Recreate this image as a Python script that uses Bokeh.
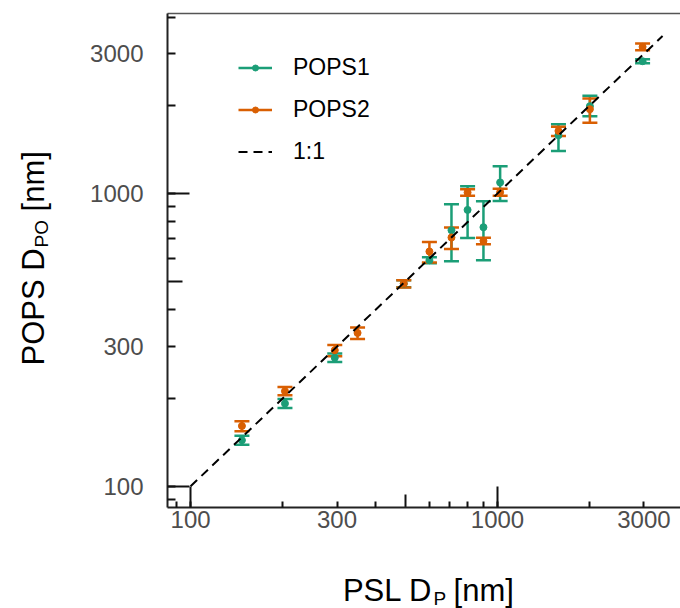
from bokeh.plotting import figure
from bokeh.models import (ColumnDataSource, Whisker, TeeHead, LogAxis, FixedTicker,
                          Legend, LegendItem, Label, Range1d, BasicTickFormatter, Grid)
from bokeh.layouts import column, row
from bokeh.embed import file_html
from bokeh.resources import INLINE
import math

# ---------------- data ----------------
pops1_psl = [147, 203, 295, 495, 600, 708, 799, 900, 1020, 1580, 2000, 2970]
pops1_dpo = [143.6, 191.7, 274.8, 491.8, 591.6, 749.3, 879, 767, 1091, 1582, 1988, 2831]
pops1_low = [138.5, 184.9, 265.7, 478, 578, 587, 705, 591.6, 943, 1398, 1837, 2786]
pops1_high = [148.9, 198.8, 284.3, 505, 606, 919, 1059, 941, 1240, 1725, 2156, 2876]

pops2_psl = [147, 203, 295, 350, 495, 600, 708, 799, 900, 1020, 1580, 2000, 2970]
pops2_dpo = [160.7, 211.2, 291.5, 334.0, 492.6, 633.8, 707.5, 1008, 688.8, 1010, 1636, 1941, 3169]
pops2_low = [154.2, 204.6, 278.1, 318.6, 477.4, 581.0, 646.8, 983, 671, 983, 1573, 1743, 3087]
pops2_high = [166.8, 218.4, 303.9, 348.5, 505.6, 683.5, 765.2, 1034, 706.3, 1038, 1689, 2112, 3254]

one_to_one = [100, 3450]

tick_vals = [100, 300, 1000, 3000]
tick_labels = ["100", "300", "1000", "3000"]
long_ticks = [100, 1000]
mid_ticks = [500]
x_minor = [90, 200, 400, 600, 700, 800, 900, 2000]
y_minor = [90, 200, 400, 600, 700, 800, 900, 2000, 4000]

series_names = ["POPS1", "POPS2", "1:1"]
x_title = ["PSL D", "P", "[nm]"]
y_title = ["POPS D", "PO", "[nm]"]

GREEN = "#1b9e77"
ORANGE = "#d95f02"
FONT = "Liberation Sans"
NAN = float("nan")


def strip(fig):
    fig.outline_line_color = None
    fig.center = [c for c in fig.center if not isinstance(c, Grid)]
    fig.background_fill_color = "white"
    fig.border_fill_color = "white"


# ---------------- main figure ----------------
p = figure(width=620, height=560, x_axis_type="log", y_axis_type="log",
           x_range=Range1d(84.1, 3947), y_range=Range1d(84.6, 4120),
           x_axis_location=None, y_axis_location=None,
           output_backend="svg", toolbar_location=None,
           min_border_left=107, min_border_right=0, min_border_top=13, min_border_bottom=53)
strip(p)


def tick_axis(ticks, minor, tin, min_in, lw=2):
    return LogAxis(ticker=FixedTicker(ticks=ticks, minor_ticks=minor),
                   formatter=BasicTickFormatter(),
                   major_tick_in=tin, major_tick_out=0, minor_tick_in=min_in, minor_tick_out=0,
                   major_tick_line_width=lw, minor_tick_line_width=lw,
                   major_tick_line_color="#111", minor_tick_line_color="#111",
                   axis_line_color=None, major_label_text_font_size="1px",
                   major_label_text_alpha=0, major_label_standoff=0)


def label_axis(minor, tin, standoff):
    return LogAxis(ticker=FixedTicker(ticks=tick_vals, minor_ticks=minor),
                   formatter=BasicTickFormatter(),
                   major_label_overrides={float(v): t for v, t in zip(tick_vals, tick_labels)},
                   major_tick_in=tin, major_tick_out=0, minor_tick_in=tin, minor_tick_out=0,
                   major_tick_line_width=2, minor_tick_line_width=2,
                   major_tick_line_color="#111", minor_tick_line_color="#111",
                   axis_line_color="#222", axis_line_width=2,
                   major_label_text_font=FONT, major_label_text_font_size="24px",
                   major_label_text_color="#4d4d4d", major_label_standoff=standoff)


p.add_layout(tick_axis(long_ticks, mid_ticks, 21, 13), "below")
p.add_layout(label_axis(x_minor, 6, 3), "below")
p.add_layout(tick_axis(long_ticks, mid_ticks, 22, 15), "left")
p.add_layout(label_axis(y_minor, 8, 24), "left")

top_axis = LogAxis(ticker=FixedTicker(ticks=[100]), formatter=BasicTickFormatter(),
                   axis_line_color="#555", axis_line_width=1.5,
                   major_tick_in=0, major_tick_out=0, minor_tick_in=0, minor_tick_out=0,
                   major_label_text_font_size="1px", major_label_text_alpha=0,
                   major_label_standoff=0)
p.add_layout(top_axis, "above")

# ---------------- data renderers ----------------
src1 = ColumnDataSource(dict(x=pops1_psl, y=pops1_dpo, lower=pops1_low, upper=pops1_high))
src2 = ColumnDataSource(dict(x=pops2_psl, y=pops2_dpo, lower=pops2_low, upper=pops2_high))

for src, col in ((src1, GREEN), (src2, ORANGE)):
    w = Whisker(source=src, base="x", lower="lower", upper="upper", dimension="height",
                line_color=col, line_width=2.5,
                upper_head=TeeHead(size=15, line_color=col, line_width=2.5),
                lower_head=TeeHead(size=15, line_color=col, line_width=2.5))
    p.add_layout(w)

s1 = p.scatter("x", "y", source=src1, size=7, color=GREEN)
s2 = p.scatter("x", "y", source=src2, size=7, color=ORANGE)

ref_line = p.line(one_to_one, one_to_one, line_color="black", line_width=2, line_dash="9 6")

# legend helper lines (not drawn in the plot area, only used for the legend glyph)
l1 = p.line(x=[NAN], y=[NAN], line_color=GREEN, line_width=2.5)
l2 = p.line(x=[NAN], y=[NAN], line_color=ORANGE, line_width=2.5)

legend = Legend(items=[LegendItem(label=series_names[0], renderers=[l1, s1]),
                       LegendItem(label=series_names[1], renderers=[l2, s2]),
                       LegendItem(label=series_names[2], renderers=[ref_line])],
                location=(71, 342), glyph_width=34, glyph_height=15, spacing=15,
                label_standoff=21, padding=0, margin=0,
                label_text_font=FONT, label_text_font_size="23px", label_text_color="black",
                border_line_color=None, background_fill_alpha=0)
p.add_layout(legend)


# ---------------- axis titles (with subscripts) ----------------
def lab(text, x, y, size, angle=0.0):
    return Label(x=x, y=y, x_units="screen", y_units="screen", text=text,
                 text_font=FONT, text_font_size=size, text_color="black",
                 text_align="center", text_baseline="middle", angle=angle)


def title_fig(w, h):
    f = figure(width=w, height=h, x_range=Range1d(0, w), y_range=Range1d(0, h),
               x_axis_location=None, y_axis_location=None,
               output_backend="svg", toolbar_location=None, min_border=0)
    strip(f)
    return f


# y title: POPS D_PO [nm]  (its frame lines up with the main frame: page y 13..507)
yt = title_fig(60, 560)
yt.add_layout(lab(y_title[0], 32.8, 200.6, "31px", math.pi / 2))
yt.add_layout(lab(y_title[1], 40.9, 273.7, "19px", math.pi / 2))
yt.add_layout(lab(y_title[2], 32.8, 326.2, "31px", math.pi / 2))

# x title: PSL D_P [nm]  (panel: page y 560..608; y measured from its bottom)
xt = title_fig(680, 48)
xt.add_layout(lab(x_title[0], 387.2, 17.7, "31px"))
xt.add_layout(lab(x_title[1], 439.3, 9.6, "19px"))
xt.add_layout(lab(x_title[2], 483.2, 17.7, "31px"))

layout = column(row(yt, p, spacing=0), xt, spacing=0)

open("out.html", "w").write(file_html(layout, INLINE))
